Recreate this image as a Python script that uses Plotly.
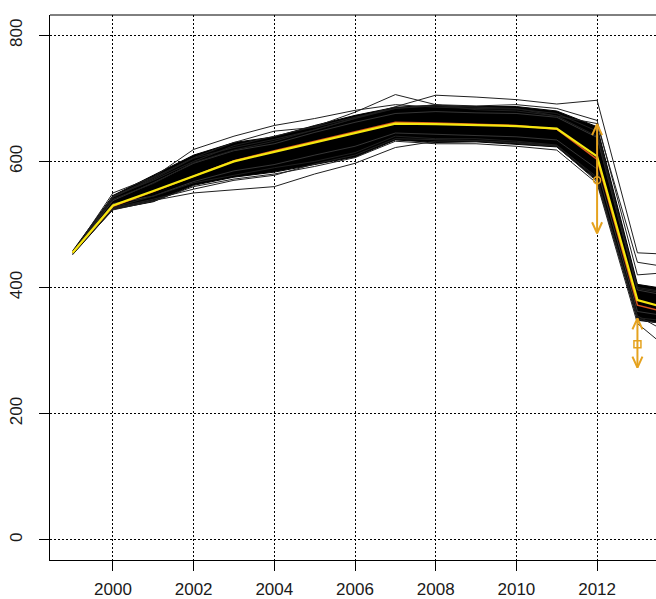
import plotly.graph_objects as go

# ---------------- data ----------------
years = list(range(1999, 2015))

mean_vals   = [455, 530, 553, 576, 600, 615, 630, 645, 660, 659, 658, 656, 652, 608, 380, 363]
median_vals = [455, 529, 552, 577, 601, 617, 632, 647, 662, 661, 659, 657, 651, 603, 372, 356]

band_upper = [458, 546, 578, 610, 630, 639, 657, 673, 686, 689, 687, 687, 680, 655, 405, 395]
band_lower = [452, 524, 536, 562, 575, 583, 595, 607, 634, 630, 631, 627, 623, 570, 348, 340]

sim_a = [455, 545, 570, 600, 625, 640, 655, 678, 706, 690, 682, 680, 672, 640, 400, 390]
sim_b = [455, 543, 572, 605, 622, 635, 650, 668, 686, 705, 702, 698, 691, 697, 455, 452]
sim_c = [455, 525, 538, 550, 555, 560, 580, 597, 622, 632, 633, 630, 625, 575, 350, 338]
sim_d = [455, 550, 575, 619, 640, 657, 668, 681, 690, 686, 684, 683, 676, 648, 398, 388]
sim_e = [455, 540, 565, 598, 618, 632, 650, 668, 684, 688, 686, 684, 672, 660, 440, 430]
sim_f = [455, 523, 537, 560, 572, 580, 592, 606, 632, 628, 628, 624, 618, 565, 343, 290]
sim_g = [455, 527, 545, 566, 578, 590, 600, 614, 640, 636, 636, 632, 626, 572, 355, 320]
sim_h = [455, 526, 540, 556, 570, 578, 596, 610, 636, 634, 633, 629, 624, 568, 352, 345]
sim_j = [455, 544, 574, 606, 630, 648, 654, 670, 684, 690, 688, 690, 684, 665, 420, 425]
sims = [sim_a, sim_b, sim_c, sim_d, sim_e, sim_f, sim_g, sim_h, sim_j]

# faint gaps inside the dense band
gap_1 = [455, 538, 566, 597, 617, 628, 646, 662, 676, 679, 677, 676, 670, 638, 396, 384]
gap_2 = [455, 533, 545, 568, 585, 595, 610, 624, 645, 643, 642, 639, 634, 588, 362, 352]
gaps = [gap_1, gap_2]

arrow_years = [2012, 2013]
arrow_hi    = [659, 351]
arrow_lo    = [486, 273]
arrow_pt    = [570, 310]

x_ticks = [2000, 2002, 2004, 2006, 2008, 2010, 2012]
y_ticks = [0, 200, 400, 600, 800]

# ---------------- layout geometry ----------------
W, H = 656, 599
ML, MR, MT, MB = 50, 0, 15, 39
x_range = [1998.44, 2013.46]
y_range = [-32.2, 832.2]
px_per_x = (W - ML - MR) / (x_range[1] - x_range[0])
px_per_y = (H - MT - MB) / (y_range[1] - y_range[0])

ARROW_COL = "#E5A21E"
head_dx = 5 / px_per_x
head_dy = 11 / px_per_y

fig = go.Figure()

# dense ensemble band
fig.add_trace(go.Scatter(x=years, y=band_lower, mode="lines",
                         line=dict(color="black", width=1), hoverinfo="skip"))
fig.add_trace(go.Scatter(x=years, y=band_upper, mode="lines", fill="tonexty",
                         fillcolor="black", line=dict(color="black", width=1),
                         hoverinfo="skip"))
for g in gaps:
    fig.add_trace(go.Scatter(x=years, y=g, mode="lines",
                             line=dict(color="rgba(255,255,255,0.35)", width=0.6),
                             hoverinfo="skip"))
# individual simulation lines
for s in sims:
    fig.add_trace(go.Scatter(x=years, y=s, mode="lines",
                             line=dict(color="#202020", width=1), hoverinfo="skip"))

# orange and yellow summary lines
fig.add_trace(go.Scatter(x=years, y=median_vals, mode="lines",
                         line=dict(color="#D9531E", width=1.5), hoverinfo="skip"))
fig.add_trace(go.Scatter(x=years, y=mean_vals, mode="lines",
                         line=dict(color="#F5E60F", width=2.2), hoverinfo="skip"))

# arrows (shaft + open heads at both ends)
ax, ay = [], []
for xv, hi, lo in zip(arrow_years, arrow_hi, arrow_lo):
    ax += [xv, xv, None]
    ay += [lo, hi, None]
    ax += [xv - head_dx, xv, xv + head_dx, None]
    ay += [hi - head_dy, hi, hi - head_dy, None]
    ax += [xv - head_dx, xv, xv + head_dx, None]
    ay += [lo + head_dy, lo, lo + head_dy, None]
fig.add_trace(go.Scatter(x=ax, y=ay, mode="lines",
                         line=dict(color=ARROW_COL, width=2), hoverinfo="skip"))
fig.add_trace(go.Scatter(x=arrow_years, y=arrow_pt, mode="markers",
                         marker=dict(symbol=["circle-open", "square-open"], size=7,
                                     color=ARROW_COL, line=dict(width=1.5, color=ARROW_COL)),
                         hoverinfo="skip"))

font = dict(family="Liberation Sans, Arial, sans-serif", size=17, color="#1a1a1a")

fig.update_layout(
    width=W, height=H,
    margin=dict(l=ML, r=MR, t=MT, b=MB, pad=0, autoexpand=False),
    paper_bgcolor="white", plot_bgcolor="white",
    showlegend=False,
    font=font,
    shapes=[dict(type="line", xref="paper", yref="paper", x0=0, x1=1, y0=1, y1=1,
                 line=dict(color="black", width=1))],
)
fig.update_xaxes(range=x_range, tickvals=x_ticks, ticks="outside", ticklen=10,
                 tickwidth=1, tickcolor="black", showline=True, linecolor="black",
                 linewidth=1, showgrid=True, gridcolor="black", gridwidth=1,
                 griddash="2px,2px", zeroline=False, tickfont=font,
                 ticklabelstandoff=4, automargin=False)
fig.update_yaxes(range=y_range, tickvals=y_ticks, ticks="outside", ticklen=10,
                 tickwidth=1, tickcolor="black", showline=True, linecolor="black",
                 linewidth=1, showgrid=True, gridcolor="black", gridwidth=1,
                 griddash="2px,2px", zeroline=False, tickfont=font,
                 tickangle=-90, ticklabelstandoff=10, automargin=False)

fig.write_html("out.html")
